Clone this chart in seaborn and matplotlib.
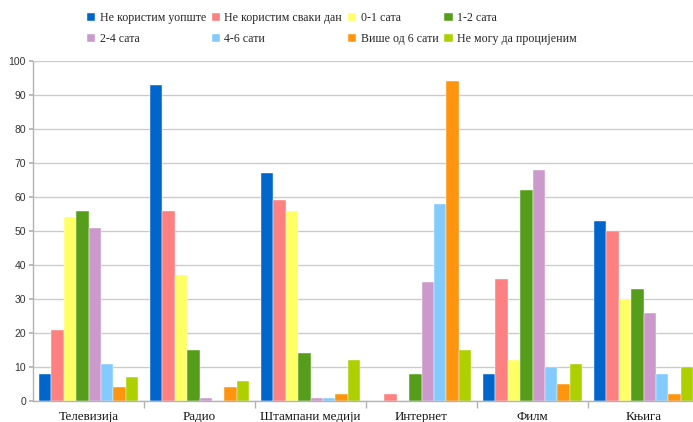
import matplotlib
matplotlib.use("Agg")
import matplotlib.pyplot as plt
import seaborn as sns
import pandas as pd
import numpy as np

categories = ["Телевизија", "Радио", "Штампани медији", "Интернет", "Филм", "Књига"]
series = ["Не користим уопште", "Не користим сваки дан", "0-1 сата", "1-2 сата",
          "2-4 сата", "4-6 сати", "Више од 6 сати", "Не могу да процијеним"]
colors = ["#0066CC", "#FF8080", "#FFFF66", "#579D1C", "#CC99CC", "#83CAFF", "#FF950E", "#AECF00"]

ne_koristim_uopste = [8, 93, 67, 0, 8, 53]
ne_koristim_svaki_dan = [21, 56, 59, 2, 36, 50]
sata_0_1 = [54, 37, 56, 0, 12, 30]
sata_1_2 = [56, 15, 14, 8, 62, 33]
sata_2_4 = [51, 1, 1, 35, 68, 26]
sati_4_6 = [11, 0, 1, 58, 10, 8]
vise_od_6 = [4, 4, 2, 94, 5, 2]
ne_mogu = [7, 6, 12, 15, 11, 10]

values = [ne_koristim_uopste, ne_koristim_svaki_dan, sata_0_1, sata_1_2,
          sata_2_4, sati_4_6, vise_od_6, ne_mogu]

rows = []
for s, vals in zip(series, values):
    for c, v in zip(categories, vals):
        rows.append({"cat": c, "series": s, "value": v})
df = pd.DataFrame(rows)

sns.set_theme(style="white")
plt.rcParams["font.family"] = ["Liberation Serif", "DejaVu Serif"]

fig = plt.figure(figsize=(6.93, 4.22), dpi=100)
ax = fig.add_axes([33 / 693, 21 / 422, (699 - 33) / 693, 340 / 422])

sns.barplot(data=df, x="cat", y="value", hue="series", order=categories,
            hue_order=series, palette=colors, saturation=1, width=0.89, ax=ax,
            edgecolor="white", linewidth=0.3, legend=True)

ax.set_ylim(0, 100)
ax.set_xlim(-0.5, len(categories) - 0.5)
ax.set_yticks(np.arange(0, 101, 10))
ax.yaxis.grid(True, color="#cccccc", linewidth=1)
ax.set_axisbelow(True)
ax.set_xlabel("")
ax.set_ylabel("")

for lbl in ax.get_yticklabels():
    lbl.set_fontfamily("Liberation Sans")
    lbl.set_fontsize(7.5)
    lbl.set_color("#333333")
ax.tick_params(axis="y", length=3, color="#b3b3b3", pad=2, left=True)
ax.tick_params(axis="x", which="major", length=0, labelsize=9.4, pad=7, labelcolor="#111111")
ax.set_xticks(np.arange(0.5, len(categories) - 0.5, 1), minor=True)
ax.tick_params(axis="x", which="minor", length=5, color="#b3b3b3", bottom=True)

for sp in ["top", "right"]:
    ax.spines[sp].set_visible(False)
for sp in ["left", "bottom"]:
    ax.spines[sp].set_color("#b3b3b3")
    ax.spines[sp].set_linewidth(1)

handles, labels = ax.get_legend_handles_labels()
ax.get_legend().remove()
order = [0, 4, 1, 5, 2, 6, 3, 7]
fig.legend([handles[i] for i in order], [labels[i] for i in order],
           loc="upper left", bbox_to_anchor=(87 / 693, 1 - 12 / 422), ncol=4,
           frameon=False, fontsize=8.6, handlelength=0.7, handleheight=0.7,
           handletextpad=0.35, columnspacing=0.5, labelspacing=0.75,
           borderaxespad=0, borderpad=0)

fig.savefig("out.png", dpi=100)
